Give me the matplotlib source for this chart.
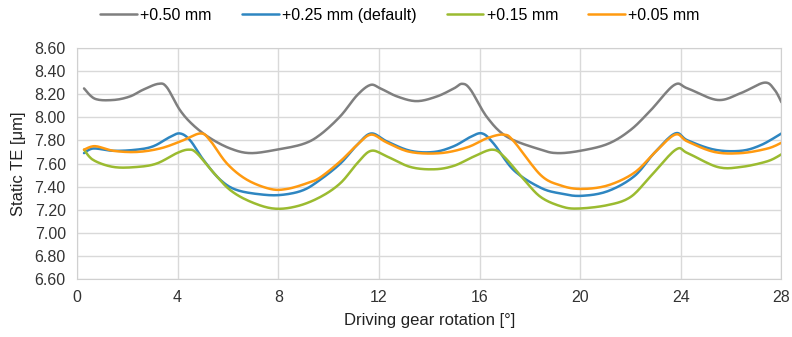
import matplotlib
matplotlib.use("Agg")
import matplotlib.pyplot as plt
import numpy as np

plt.rcParams['font.family'] = ['Liberation Sans', 'DejaVu Sans']

# values
x_050 = [0.28, 0.72, 1.45, 2.1, 2.64, 3.24, 3.57, 4.1, 4.63, 5.29, 6.09, 6.89, 7.95, 9.0,
         9.67, 10.47, 11.13, 11.66, 12.06, 12.73, 13.5, 14.3, 14.98, 15.31, 15.64, 16.3,
         17.1, 18.43, 19.1, 20.0, 21.1, 22.0, 22.8, 23.74, 24.27, 25.46, 26.39, 27.32,
         27.72, 28.0]
y_050 = [8.25, 8.16, 8.15, 8.18, 8.24, 8.29, 8.26, 8.06, 7.93, 7.82, 7.73, 7.69, 7.72, 7.77,
         7.85, 8.01, 8.19, 8.28, 8.25, 8.18, 8.14, 8.18, 8.25, 8.29, 8.24, 8.00,
         7.83, 7.72, 7.69, 7.71, 7.77, 7.89, 8.06, 8.28, 8.25, 8.15, 8.21, 8.30,
         8.24, 8.13]

x_025 = [0.28, 0.65, 1.45, 2.38, 3.04, 3.7, 4.1, 4.5, 5.03, 5.69, 6.36, 7.42, 8.2, 9.0,
         9.67, 10.47, 11.13, 11.69, 12.33, 13.25, 14.19, 14.98, 15.64, 16.11, 16.57, 17.37,
         18.43, 19.23, 20.03, 21.09, 22.15, 22.94, 23.77, 24.27, 25.33, 26.39, 27.19, 28.0]
y_025 = [7.69, 7.73, 7.71, 7.72, 7.75, 7.83, 7.86, 7.80, 7.63, 7.46, 7.37, 7.33, 7.33, 7.37,
         7.46, 7.60, 7.76, 7.86, 7.79, 7.71, 7.70, 7.75, 7.83, 7.86, 7.77, 7.54,
         7.39, 7.34, 7.32, 7.36, 7.49, 7.69, 7.86, 7.80, 7.72, 7.71, 7.76, 7.86]

x_015 = [0.28, 0.65, 1.45, 2.38, 3.17, 3.97, 4.43, 4.76, 5.43, 6.09, 6.89, 7.82, 8.74,
         9.67, 10.47, 11.13, 11.69, 12.33, 13.25, 14.19, 14.98, 15.77, 16.5, 16.97, 17.77,
         18.43, 19.23, 19.9, 21.09, 22.0, 22.8, 23.8, 24.27, 25.46, 26.39, 27.45, 28.0]
y_015 = [7.72, 7.63, 7.57, 7.57, 7.60, 7.69, 7.72, 7.69, 7.52, 7.37, 7.27, 7.21, 7.23,
         7.31, 7.43, 7.60, 7.71, 7.66, 7.57, 7.55, 7.58, 7.66, 7.72, 7.66, 7.46,
         7.31, 7.23, 7.21, 7.24, 7.31, 7.49, 7.72, 7.69, 7.57, 7.57, 7.62, 7.68]

x_005 = [0.28, 0.72, 1.45, 2.38, 3.3, 4.1, 4.9, 5.29, 5.96, 6.75, 7.68, 8.35, 9.15,
         9.67, 10.47, 11.13, 11.69, 12.33, 13.25, 14.45, 15.51, 16.31, 16.97, 17.37,
         18.43, 19.23, 20.03, 21.09, 22.15, 22.94, 23.77, 24.27, 25.33, 26.39, 27.45, 28.0]
y_005 = [7.72, 7.75, 7.71, 7.70, 7.73, 7.79, 7.86, 7.80, 7.60, 7.46, 7.38, 7.38, 7.43,
         7.48, 7.62, 7.76, 7.85, 7.78, 7.70, 7.69, 7.74, 7.82, 7.85, 7.79,
         7.50, 7.41, 7.38, 7.41, 7.52, 7.69, 7.85, 7.79, 7.70, 7.69, 7.73, 7.78]


def smooth(xs, ys, n=12):
    # Catmull-Rom curve through the points, like Excel's "smoothed line"
    p = np.column_stack([xs, ys]).astype(float)
    p = np.vstack([p[0], p, p[-1]])
    t = np.linspace(0, 1, n, endpoint=False)[:, None]
    out = []
    for i in range(1, len(p) - 2):
        p0, p1, p2, p3 = p[i - 1], p[i], p[i + 1], p[i + 2]
        c = 0.5 * ((2 * p1) + (-p0 + p2) * t + (2 * p0 - 5 * p1 + 4 * p2 - p3) * t ** 2
                   + (-p0 + 3 * p1 - 3 * p2 + p3) * t ** 3)
        out.append(c)
    out.append(p[-2][None, :])
    c = np.vstack(out)
    return c[:, 0], c[:, 1]


fig = plt.figure(figsize=(7.92, 3.37), dpi=100)
ax = fig.add_axes([0.0972, 0.172, 0.8895, 0.6856])

series = [(x_050, y_050, '#7f7f7f', '+0.50 mm'),
          (x_025, y_025, '#2e86c1', '+0.25 mm (default)'),
          (x_015, y_015, '#9bbb30', '+0.15 mm'),
          (x_005, y_005, '#ff9a10', '+0.05 mm')]
for xs, ys, col, lab in series:
    sx, sy = smooth(xs, ys)
    ax.plot(sx, sy, color=col, lw=1.8, label=lab, solid_capstyle='round')

ax.set_xlim(0, 28)
ax.set_ylim(6.6, 8.6)
ax.set_xticks(range(0, 29, 4))
ax.set_yticks([6.6 + 0.2 * i for i in range(11)])
ax.set_yticklabels(['%.2f' % (6.6 + 0.2 * i) for i in range(11)])
ax.grid(True, color='#d9d9d9', lw=1.0)
ax.set_axisbelow(True)
ax.tick_params(length=0, labelsize=11.5, pad=8, colors='#333333')
for s in ax.spines.values():
    s.set_color('#d0d0d0')

ax.set_ylabel('Static TE [μm]', fontsize=12, color='#222222', labelpad=6)
ax.set_xlabel('Driving gear rotation [°]', fontsize=12, color='#222222', labelpad=6)

fig.legend(loc='upper center', bbox_to_anchor=(0.505, 1.02), ncol=4, frameon=False,
           fontsize=11.5, handlelength=2.3, handletextpad=0.2, columnspacing=1.9)

fig.savefig('out.png', dpi=100)
